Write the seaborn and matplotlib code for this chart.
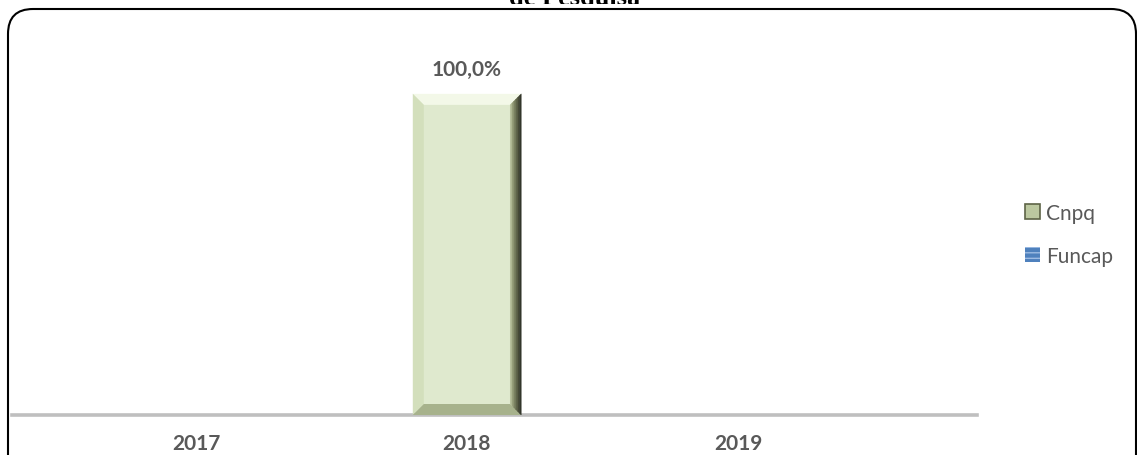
import pandas as pd
import numpy as np
import matplotlib
matplotlib.use("Agg")
import matplotlib.pyplot as plt
import seaborn as sns
from matplotlib.patches import FancyBboxPatch, Rectangle, Polygon, Patch
from matplotlib.transforms import IdentityTransform

# Data
years = ["2017", "2018", "2019"]
cnpq = [0, 100, 0]
funcap = [0, 0, 0]
series = ["Cnpq", "Funcap"]
title_tail = "de Pesquisa"

df = pd.DataFrame({
    "ano": years * 2,
    "fonte": ["Cnpq"] * 3 + ["Funcap"] * 3,
    "valor": cnpq + funcap,
})

gray_txt = "#595959"
green = "#E0EDCA"
blue = "#4F81BD"

sns.set_theme(style="white")
plt.rcParams["font.family"] = ["Lato", "DejaVu Sans"]

W, H = 1137, 456
fig = plt.figure(figsize=(W / 100, H / 100), dpi=100)
ax = fig.add_axes([12 / W, 1 - 416 / H, (977 - 12) / W, (416 - 30) / H])
ax.patch.set_visible(False)

sns.barplot(data=df, x="ano", y="valor", hue="fonte", dodge=False, width=0.4,
            palette={"Cnpq": green, "Funcap": blue}, ax=ax, legend=False,
            linewidth=0)

ax.set_xlim(-0.679, 2.882)
ax.set_ylim(0, 120.2)
ax.set_xlabel("")
ax.set_ylabel("")
ax.set_yticks([])
for s in ["top", "left", "right"]:
    ax.spines[s].set_visible(False)
ax.spines["bottom"].set_color("#BFBFBF")
ax.spines["bottom"].set_linewidth(2.6)
ax.tick_params(axis="x", length=0, pad=13)
for lab in ax.get_xticklabels():
    lab.set_fontsize(15)
    lab.set_fontweight("bold")
    lab.set_color(gray_txt)

# value labels (only non-zero)
cont = ax.containers[0]
labels = [("%.1f%%" % v).replace(".", ",") if v else "" for v in cnpq]
ax.bar_label(cont, labels=labels, padding=11, fontsize=15, fontweight="bold",
             color=gray_txt)

# bevel effect on the bars
fig.canvas.draw()
to_data = ax.transData.inverted()
for bar in cont.patches:
    if bar.get_height() == 0:
        continue
    x0, y0 = bar.get_x(), bar.get_y()
    x1, y1 = x0 + bar.get_width(), y0 + bar.get_height()
    p0 = ax.transData.transform((x0, y0))
    p1 = ax.transData.transform((x1, y1))
    b = 11
    ix0, iy0 = to_data.transform((p0[0] + b, p0[1] + b))
    ix1, iy1 = to_data.transform((p1[0] - b, p1[1] - b))
    faces = [
        ([(x0, y1), (x1, y1), (ix1, iy1), (ix0, iy1)], "#F3F8E8"),   # top
        ([(x0, y0), (x0, y1), (ix0, iy1), (ix0, iy0)], "#D3DFBC"),   # left
        ([(x0, y0), (x1, y0), (ix1, iy0), (ix0, iy0)], "#A7B28C"),   # bottom
    ]
    for pts, c in faces:
        ax.add_patch(Polygon(pts, closed=True, facecolor=c, edgecolor="none", zorder=3))
    # right side: gradient from light olive to near black
    shades = ["#B4BD98", "#969E79", "#7A8160", "#60664A", "#474B36", "#33362A"]
    n = len(shades)
    for k, c in enumerate(shades):
        fa, fb = k / n, (k + 1) / n
        xa = ix1 + (x1 - ix1) * fa
        xb = ix1 + (x1 - ix1) * fb
        ya_top = iy1 + (y1 - iy1) * fa
        yb_top = iy1 + (y1 - iy1) * fb
        ya_bot = iy0 - (iy0 - y0) * fa
        yb_bot = iy0 - (iy0 - y0) * fb
        ax.add_patch(Polygon([(xa, ya_bot), (xa, ya_top), (xb, yb_top), (xb, yb_bot)],
                             closed=True, facecolor=c, edgecolor=c, linewidth=0.3,
                             zorder=3))

# legend
handles = [
    Patch(facecolor="#BCC8A0", edgecolor="#5E6447", linewidth=1.2),
    Patch(facecolor=blue, edgecolor="#9DBBE3", hatch="---", linewidth=0),
]
fig.legend(handles, series, loc="center left",
           bbox_to_anchor=(1025 / W, 1 - 235.5 / H), frameon=False,
           fontsize=15, labelcolor=gray_txt, handlelength=0.7,
           handleheight=0.7, handletextpad=0.3, labelspacing=1.1,
           borderpad=0, borderaxespad=0)

# cropped title, chart frame with rounded corners
fig.text(0.505, 1 - 4.5 / H, title_tail, ha="center", va="baseline",
         fontsize=19, fontweight="bold", family="Liberation Serif",
         color="black", zorder=-3)
fig.add_artist(Rectangle((0, -10), W, H - 5 + 10, transform=IdentityTransform(),
                         facecolor="white", edgecolor="none", zorder=-2))
fig.add_artist(FancyBboxPatch((8, -40), 1128, H - 10 + 40,
                              boxstyle="round,pad=0,rounding_size=25",
                              transform=IdentityTransform(), facecolor="none",
                              edgecolor="black", linewidth=1.5, zorder=-1))

fig.savefig("out.png", dpi=100)
